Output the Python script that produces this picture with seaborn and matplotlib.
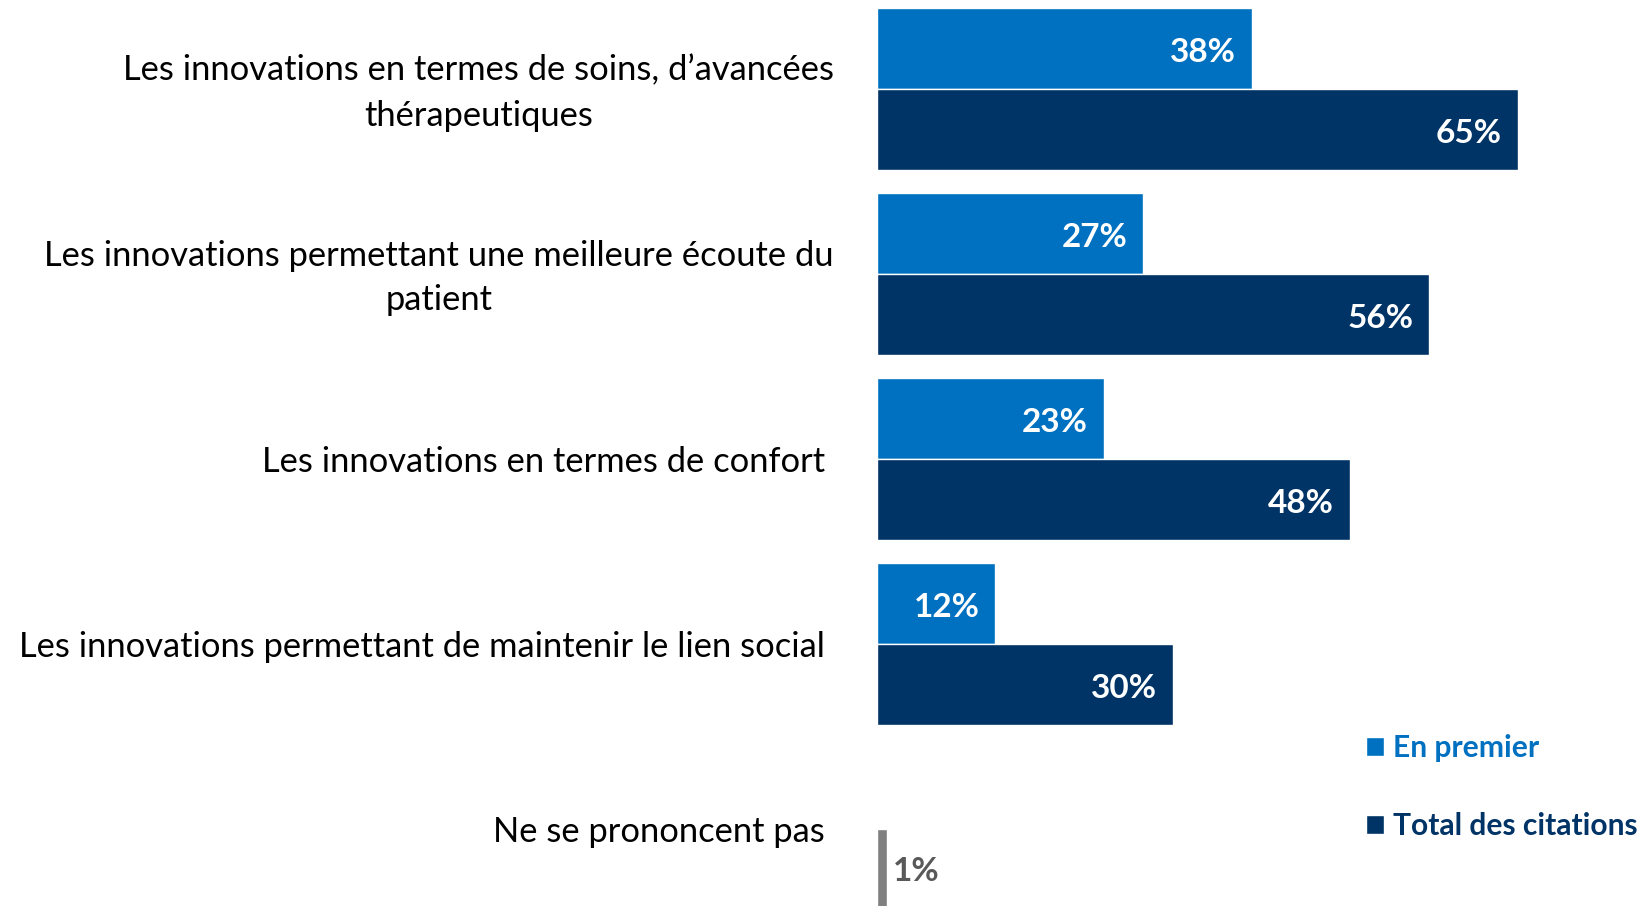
import matplotlib
matplotlib.use("Agg")
import matplotlib.pyplot as plt
import matplotlib.transforms as mtransforms
import seaborn as sns
import pandas as pd
import numpy as np

# ---- data ----
categories = [
    "Les innovations en termes de soins, d’avancées\nthérapeutiques",
    "Les innovations permettant une meilleure écoute du\npatient",
    "Les innovations en termes de confort ",
    "Les innovations permettant de maintenir le lien social ",
    "Ne se prononcent pas ",
]
series = ["En premier", "Total des citations"]
en_premier = [38, 27, 23, 12, None]
total_citations = [65, 56, 48, 30, 1]

colors = ["#0070C0", "#003366"]
nsp_color = "#808080"
nsp_label_color = "#595959"

rows = []
for c, a, b in zip(categories, en_premier, total_citations):
    if a is not None:
        rows.append({"cat": c, "serie": series[0], "val": a})
    if b is not None:
        rows.append({"cat": c, "serie": series[1], "val": b})
df = pd.DataFrame(rows)

sns.set_theme(style="white")
plt.rcParams["font.family"] = ["Lato", "DejaVu Sans"]

W, H = 1640, 906
fig = plt.figure(figsize=(W / 100, H / 100), dpi=100)
ax = fig.add_axes([877 / W, 0, 761 / W, 1])

sns.barplot(data=df, y="cat", x="val", hue="serie", order=categories,
            hue_order=series, palette=colors, saturation=1, width=0.88,
            orient="h", ax=ax, legend=True)

ax.set_xlim(0, 77.2)
ax.set_ylim(4 + 77 / 185, -89 / 185)
ax.set_xlabel("")
ax.set_ylabel("")
ax.set_xticks([])
for s in ax.spines.values():
    s.set_visible(False)

ax.tick_params(axis="y", length=0, pad=31)
for lbl in ax.get_yticklabels():
    lbl.set_fontsize(24.8)
    lbl.set_color("black")
    lbl.set_multialignment("center")
    lbl.set_linespacing(1.5)
    if "\n" in lbl.get_text():
        lbl.set_transform(lbl.get_transform() +
                          mtransforms.ScaledTranslation(0, 5.5 / 100, fig.dpi_scale_trans))

# value labels
for ci, cont in enumerate(ax.containers):
    vals = [p.get_width() for p in cont]
    anns = ax.bar_label(cont, labels=[f"{v:.0f}%" for v in vals],
                        padding=0, fontsize=24, fontweight="bold", color="white")
    for p, a in zip(cont, anns):
        yc = p.get_y() + p.get_height() / 2
        if yc > 4:  # "Ne se prononcent pas"
            p.set_facecolor(nsp_color)
            a.set_color(nsp_label_color)
            a.set_ha("left")
            a.xyann = (4.5, -1)
        else:
            a.set_ha("right")
            a.xyann = (-11.5, -3)

# legend
handles, labels = ax.get_legend_handles_labels()
leg = ax.legend(handles, labels, loc="upper left",
                bbox_to_anchor=(1366 / W, 1 - 734 / H), bbox_transform=fig.transFigure,
                frameon=False, borderaxespad=0, borderpad=0,
                handlelength=0.6, handleheight=0.6, handletextpad=0.3,
                labelspacing=1.68, prop={"size": 21.6, "weight": "bold"})
for t, c in zip(leg.get_texts(), colors):
    t.set_color(c)

fig.savefig("out.png", dpi=100)
